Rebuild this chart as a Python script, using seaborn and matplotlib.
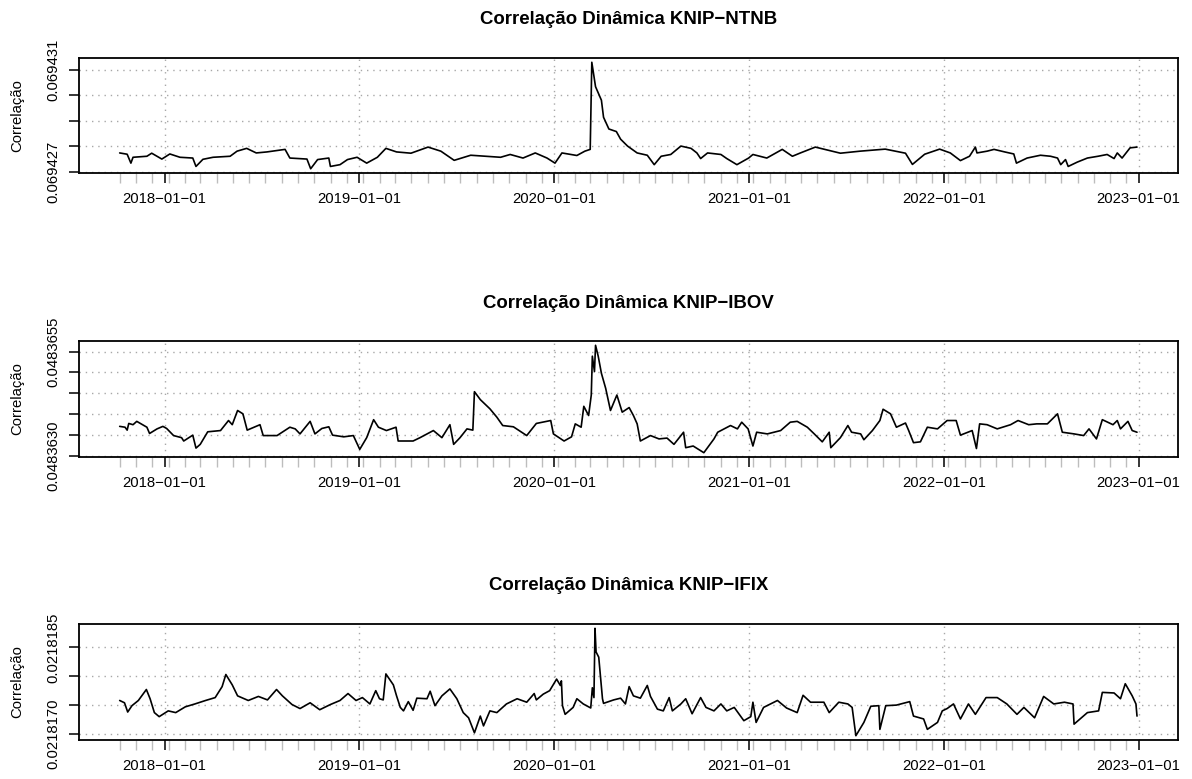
import matplotlib
matplotlib.use("Agg")
import matplotlib.pyplot as plt
import matplotlib.dates as mdates
import seaborn as sns
import pandas as pd

# ---------------- data ----------------
ntnb_dates = [
    "2017-10-09", "2017-10-23", "2017-10-30", "2017-11-03", "2017-11-29", "2017-12-08", "2017-12-27",
    "2018-01-11", "2018-01-30", "2018-02-23", "2018-03-01", "2018-03-14", "2018-04-02", "2018-05-04",
    "2018-05-17", "2018-06-04", "2018-06-22", "2018-07-12", "2018-08-15", "2018-08-24", "2018-09-25",
    "2018-10-02", "2018-10-15", "2018-11-05", "2018-11-08", "2018-11-26", "2018-12-10", "2018-12-28",
    "2019-01-15", "2019-02-04", "2019-02-20", "2019-03-12", "2019-04-08", "2019-05-10", "2019-06-03",
    "2019-06-28", "2019-07-29", "2019-08-26", "2019-09-23", "2019-10-11", "2019-11-04", "2019-11-27",
    "2019-12-19", "2020-01-03", "2020-01-16", "2020-02-13", "2020-02-28", "2020-03-09", "2020-03-12",
    "2020-03-19", "2020-03-30", "2020-04-03", "2020-04-13", "2020-04-27", "2020-05-05", "2020-05-18",
    "2020-06-05", "2020-06-24", "2020-07-07", "2020-07-20", "2020-08-07", "2020-08-26", "2020-09-14",
    "2020-09-25", "2020-10-02", "2020-10-15", "2020-11-09", "2020-11-20", "2020-12-09", "2020-12-31",
    "2021-01-08", "2021-02-03", "2021-03-04", "2021-03-23", "2021-04-07", "2021-05-05", "2021-06-21",
    "2021-07-28", "2021-09-13", "2021-10-21", "2021-11-03", "2021-11-26", "2021-12-24", "2022-01-13",
    "2022-02-01", "2022-02-18", "2022-03-01", "2022-03-04", "2022-03-23", "2022-04-05", "2022-04-25",
    "2022-05-12", "2022-05-17", "2022-06-06", "2022-07-01", "2022-07-20", "2022-08-02", "2022-08-08",
    "2022-08-17", "2022-08-22", "2022-09-08", "2022-09-27", "2022-10-17", "2022-11-03", "2022-11-16",
    "2022-11-22", "2022-12-01", "2022-12-16", "2022-12-29",
]
ntnb_values = [
    0.06942773, 0.06942768, 0.06942733, 0.06942756, 0.06942760, 0.06942772, 0.06942749,
    0.06942769, 0.06942756, 0.06942753, 0.06942720, 0.06942748, 0.06942756, 0.06942760,
    0.06942780, 0.06942791, 0.06942773, 0.06942777, 0.06942787, 0.06942753, 0.06942749,
    0.06942711, 0.06942747, 0.06942753, 0.06942720, 0.06942727, 0.06942747, 0.06942756,
    0.06942733, 0.06942756, 0.06942791, 0.06942777, 0.06942772, 0.06942796, 0.06942780,
    0.06942744, 0.06942764, 0.06942760, 0.06942756, 0.06942767, 0.06942753, 0.06942773,
    0.06942753, 0.06942733, 0.06942773, 0.06942763, 0.06942780, 0.06942787, 0.06943129,
    0.06943033, 0.06942980, 0.06942913, 0.06942867, 0.06942857, 0.06942827, 0.06942800,
    0.06942773, 0.06942764, 0.06942727, 0.06942760, 0.06942767, 0.06942800, 0.06942791,
    0.06942773, 0.06942751, 0.06942773, 0.06942767, 0.06942751, 0.06942727, 0.06942753,
    0.06942767, 0.06942753, 0.06942787, 0.06942760, 0.06942773, 0.06942796, 0.06942772,
    0.06942780, 0.06942788, 0.06942772, 0.06942728, 0.06942768, 0.06942788, 0.06942773,
    0.06942743, 0.06942760, 0.06942796, 0.06942773, 0.06942780, 0.06942787, 0.06942777,
    0.06942769, 0.06942733, 0.06942753, 0.06942764, 0.06942760, 0.06942753, 0.06942727,
    0.06942747, 0.06942720, 0.06942737, 0.06942753, 0.06942760, 0.06942767, 0.06942751,
    0.06942773, 0.06942753, 0.06942793, 0.06942796,
]

ibov_dates = [
    "2017-10-09", "2017-10-19", "2017-10-23", "2017-10-26", "2017-11-03", "2017-11-10", "2017-11-29",
    "2017-12-04", "2017-12-18", "2017-12-29", "2018-01-05", "2018-01-18", "2018-02-02", "2018-02-06",
    "2018-02-23", "2018-03-01", "2018-03-09", "2018-03-23", "2018-04-16", "2018-05-01", "2018-05-08",
    "2018-05-18", "2018-05-28", "2018-06-05", "2018-06-18", "2018-06-29", "2018-07-05", "2018-07-31",
    "2018-08-24", "2018-09-03", "2018-09-12", "2018-10-01", "2018-10-10", "2018-10-23", "2018-11-05",
    "2018-11-12", "2018-12-03", "2018-12-21", "2019-01-02", "2019-01-15", "2019-01-28", "2019-02-06",
    "2019-02-21", "2019-03-11", "2019-03-15", "2019-03-25", "2019-04-12", "2019-04-25", "2019-05-20",
    "2019-06-05", "2019-06-20", "2019-06-27", "2019-07-09", "2019-07-22", "2019-08-02", "2019-08-05",
    "2019-08-16", "2019-09-03", "2019-09-16", "2019-09-27", "2019-10-17", "2019-11-11", "2019-11-29",
    "2019-12-26", "2019-12-31", "2020-01-20", "2020-02-03", "2020-02-10", "2020-02-21", "2020-02-26",
    "2020-03-06", "2020-03-11", "2020-03-13", "2020-03-17", "2020-03-19", "2020-03-24", "2020-03-30",
    "2020-04-07", "2020-04-16", "2020-04-28", "2020-05-08", "2020-05-21", "2020-05-29", "2020-06-05",
    "2020-06-11", "2020-06-30", "2020-07-16", "2020-07-31", "2020-08-13", "2020-08-31", "2020-09-04",
    "2020-09-18", "2020-10-08", "2020-10-27", "2020-11-03", "2020-11-27", "2020-12-10", "2020-12-18",
    "2020-12-30", "2021-01-08", "2021-01-15", "2021-02-04", "2021-03-01", "2021-03-19", "2021-04-01",
    "2021-04-20", "2021-05-03", "2021-05-18", "2021-05-31", "2021-06-03", "2021-06-21", "2021-07-05",
    "2021-07-12", "2021-07-29", "2021-08-04", "2021-08-20", "2021-09-03", "2021-09-09", "2021-09-23",
    "2021-10-04", "2021-10-21", "2021-10-27", "2021-11-05", "2021-11-18", "2021-12-01", "2021-12-20",
    "2022-01-07", "2022-01-24", "2022-02-01", "2022-02-23", "2022-03-03", "2022-03-09", "2022-03-23",
    "2022-04-11", "2022-05-06", "2022-05-20", "2022-06-09", "2022-06-24", "2022-07-14", "2022-08-02",
    "2022-08-11", "2022-09-02", "2022-09-20", "2022-09-30", "2022-10-14", "2022-10-25", "2022-11-14",
    "2022-11-22", "2022-11-28", "2022-12-12", "2022-12-20", "2022-12-29",
]
ibov_values = [
    0.04836371, 0.04836369, 0.04836362, 0.04836378, 0.04836375, 0.04836383, 0.04836369,
    0.04836354, 0.04836365, 0.04836371, 0.04836366, 0.04836349, 0.04836344, 0.04836336,
    0.04836350, 0.04836319, 0.04836328, 0.04836358, 0.04836361, 0.04836385, 0.04836375,
    0.04836409, 0.04836401, 0.04836362, 0.04836369, 0.04836375, 0.04836349, 0.04836349,
    0.04836369, 0.04836365, 0.04836353, 0.04836383, 0.04836353, 0.04836366, 0.04836370,
    0.04836350, 0.04836346, 0.04836349, 0.04836316, 0.04836344, 0.04836387, 0.04836369,
    0.04836361, 0.04836369, 0.04836336, 0.04836336, 0.04836336, 0.04836344, 0.04836361,
    0.04836344, 0.04836375, 0.04836328, 0.04836344, 0.04836365, 0.04836362, 0.04836454,
    0.04836435, 0.04836413, 0.04836393, 0.04836373, 0.04836370, 0.04836349, 0.04836378,
    0.04836385, 0.04836353, 0.04836336, 0.04836346, 0.04836377, 0.04836369, 0.04836419,
    0.04836397, 0.04836446, 0.04836539, 0.04836502, 0.04836565, 0.04836539, 0.04836498,
    0.04836462, 0.04836409, 0.04836446, 0.04836405, 0.04836416, 0.04836397, 0.04836377,
    0.04836336, 0.04836349, 0.04836341, 0.04836343, 0.04836328, 0.04836357, 0.04836320,
    0.04836324, 0.04836308, 0.04836341, 0.04836357, 0.04836373, 0.04836365, 0.04836381,
    0.04836365, 0.04836324, 0.04836357, 0.04836353, 0.04836361, 0.04836381, 0.04836383,
    0.04836369, 0.04836353, 0.04836334, 0.04836357, 0.04836320, 0.04836344, 0.04836373,
    0.04836357, 0.04836353, 0.04836339, 0.04836361, 0.04836385, 0.04836412, 0.04836401,
    0.04836369, 0.04836379, 0.04836361, 0.04836332, 0.04836334, 0.04836369, 0.04836365,
    0.04836385, 0.04836385, 0.04836350, 0.04836361, 0.04836318, 0.04836377, 0.04836375,
    0.04836365, 0.04836375, 0.04836385, 0.04836375, 0.04836377, 0.04836377, 0.04836401,
    0.04836357, 0.04836353, 0.04836349, 0.04836365, 0.04836341, 0.04836387, 0.04836375,
    0.04836385, 0.04836365, 0.04836383, 0.04836361, 0.04836357,
]

ifix_dates = [
    "2017-10-09", "2017-10-18", "2017-10-24", "2017-11-01", "2017-11-13", "2017-11-28", "2017-12-05",
    "2017-12-13", "2017-12-22", "2018-01-08", "2018-01-22", "2018-02-09", "2018-02-27", "2018-03-19",
    "2018-04-06", "2018-04-19", "2018-04-26", "2018-05-08", "2018-05-18", "2018-06-07", "2018-06-26",
    "2018-07-13", "2018-07-30", "2018-08-10", "2018-08-28", "2018-09-12", "2018-10-01", "2018-10-19",
    "2018-11-08", "2018-11-26", "2018-12-11", "2018-12-26", "2019-01-07", "2019-01-21", "2019-02-01",
    "2019-02-08", "2019-02-15", "2019-02-20", "2019-03-06", "2019-03-12", "2019-03-19", "2019-03-25",
    "2019-04-03", "2019-04-12", "2019-04-19", "2019-05-08", "2019-05-14", "2019-05-23", "2019-06-05",
    "2019-06-20", "2019-07-03", "2019-07-15", "2019-07-25", "2019-08-05", "2019-08-16", "2019-08-22",
    "2019-09-03", "2019-09-16", "2019-10-04", "2019-10-24", "2019-11-11", "2019-11-25", "2019-11-29",
    "2019-12-12", "2019-12-24", "2020-01-06", "2020-01-13", "2020-01-15", "2020-01-17", "2020-01-22",
    "2020-02-06", "2020-02-13", "2020-02-25", "2020-03-10", "2020-03-13", "2020-03-16", "2020-03-18",
    "2020-03-20", "2020-03-25", "2020-04-01", "2020-04-03", "2020-04-22", "2020-05-05", "2020-05-14",
    "2020-05-21", "2020-05-29", "2020-06-11", "2020-06-24", "2020-06-30", "2020-07-13", "2020-07-24",
    "2020-08-04", "2020-08-10", "2020-08-26", "2020-09-04", "2020-09-16", "2020-10-02", "2020-10-12",
    "2020-10-27", "2020-11-09", "2020-11-20", "2020-12-04", "2020-12-22", "2021-01-04", "2021-01-08",
    "2021-01-14", "2021-01-28", "2021-02-23", "2021-03-12", "2021-04-01", "2021-04-12", "2021-04-26",
    "2021-05-21", "2021-05-31", "2021-06-18", "2021-07-05", "2021-07-13", "2021-07-20", "2021-08-04",
    "2021-08-17", "2021-09-01", "2021-09-03", "2021-09-14", "2021-10-04", "2021-10-25", "2021-10-29",
    "2021-11-05", "2021-11-24", "2021-12-01", "2021-12-20", "2021-12-29", "2022-01-07", "2022-01-19",
    "2022-02-01", "2022-02-16", "2022-03-01", "2022-03-21", "2022-04-11", "2022-04-29", "2022-05-18",
    "2022-05-31", "2022-06-20", "2022-07-07", "2022-07-26", "2022-08-15", "2022-08-31", "2022-09-02",
    "2022-09-27", "2022-10-18", "2022-10-25", "2022-11-16", "2022-11-28", "2022-12-07", "2022-12-20",
    "2022-12-27", "2022-12-29",
]
ifix_values = [
    0.02181758, 0.02181754, 0.02181738, 0.02181749, 0.02181758, 0.02181777, 0.02181761,
    0.02181737, 0.02181730, 0.02181740, 0.02181737, 0.02181747, 0.02181752, 0.02181758,
    0.02181763, 0.02181782, 0.02181803, 0.02181785, 0.02181766, 0.02181758, 0.02181765,
    0.02181759, 0.02181777, 0.02181766, 0.02181751, 0.02181744, 0.02181754, 0.02181742,
    0.02181751, 0.02181758, 0.02181770, 0.02181758, 0.02181763, 0.02181752, 0.02181775,
    0.02181761, 0.02181759, 0.02181804, 0.02181785, 0.02181766, 0.02181746, 0.02181740,
    0.02181756, 0.02181741, 0.02181762, 0.02181761, 0.02181774, 0.02181749, 0.02181766,
    0.02181778, 0.02181761, 0.02181737, 0.02181728, 0.02181702, 0.02181731, 0.02181714,
    0.02181740, 0.02181737, 0.02181752, 0.02181761, 0.02181755, 0.02181770, 0.02181759,
    0.02181769, 0.02181775, 0.02181795, 0.02181784, 0.02181792, 0.02181749, 0.02181734,
    0.02181746, 0.02181761, 0.02181752, 0.02181745, 0.02181780, 0.02181763, 0.02181883,
    0.02181842, 0.02181833, 0.02181761, 0.02181753, 0.02181759, 0.02181762, 0.02181752,
    0.02181782, 0.02181766, 0.02181762, 0.02181784, 0.02181765, 0.02181743, 0.02181740,
    0.02181763, 0.02181740, 0.02181752, 0.02181761, 0.02181735, 0.02181763, 0.02181746,
    0.02181740, 0.02181752, 0.02181740, 0.02181746, 0.02181723, 0.02181730, 0.02181755,
    0.02181720, 0.02181746, 0.02181758, 0.02181745, 0.02181737, 0.02181767, 0.02181755,
    0.02181755, 0.02181737, 0.02181755, 0.02181752, 0.02181746, 0.02181697, 0.02181720,
    0.02181748, 0.02181749, 0.02181708, 0.02181749, 0.02181750, 0.02181755, 0.02181756,
    0.02181731, 0.02181726, 0.02181708, 0.02181720, 0.02181740, 0.02181744, 0.02181752,
    0.02181726, 0.02181752, 0.02181734, 0.02181763, 0.02181763, 0.02181752, 0.02181734,
    0.02181746, 0.02181728, 0.02181765, 0.02181752, 0.02181755, 0.02181752, 0.02181717,
    0.02181737, 0.02181740, 0.02181772, 0.02181771, 0.02181761, 0.02181787, 0.02181766,
    0.02181752, 0.02181731,
]

titles = ["Correlação Dinâmica KNIP\u2212NTNB",
          "Correlação Dinâmica KNIP\u2212IBOV",
          "Correlação Dinâmica KNIP\u2212IFIX"]
y_label = "Correlação"

ntnb_yticks = [0.069427, 0.069428, 0.069429, 0.069430, 0.069431]
ntnb_ytick_labels = ["0.069427", "", "", "", "0.069431"]
ibov_yticks = [0.0483630, 0.0483635, 0.0483640, 0.0483645, 0.0483650, 0.0483655]
ibov_ytick_labels = ["0.0483630", "", "", "", "", "0.0483655"]
ifix_yticks = [0.0218170, 0.0218175, 0.0218180, 0.0218185]
ifix_ytick_labels = ["0.0218170", "", "", "0.0218185"]

x_major_dates = ["2018-01-01", "2019-01-01", "2020-01-01", "2021-01-01", "2022-01-01", "2023-01-01"]
x_major_labels = ["2018\u221201\u221201", "2019\u221201\u221201", "2020\u221201\u221201",
                  "2021\u221201\u221201", "2022\u221201\u221201", "2023\u221201\u221201"]

# ---------------- style ----------------
sns.set_style("white")
plt.rcParams["font.family"] = ["Liberation Sans", "DejaVu Sans"]
plt.rcParams["axes.unicode_minus"] = False
plt.rcParams["text.color"] = "black"
plt.rcParams["axes.labelcolor"] = "black"
plt.rcParams["xtick.color"] = "black"
plt.rcParams["ytick.color"] = "black"
plt.rcParams["xtick.labelcolor"] = "black"
plt.rcParams["ytick.labelcolor"] = "black"

W, H = 1192, 779
fig = plt.figure(figsize=(W / 100, H / 100), dpi=100)

panels = [
    (ntnb_dates, ntnb_values, ntnb_yticks, ntnb_ytick_labels, 58, 173),
    (ibov_dates, ibov_values, ibov_yticks, ibov_ytick_labels, 341, 457),
    (ifix_dates, ifix_values, ifix_yticks, ifix_ytick_labels, 624, 740),
]
left_px, right_px = 79, 1177.7

grid_kw = dict(color="#a8a8a8", linestyle=(0, (1, 3.5)), linewidth=1.0)

for i, (dates, vals, yt, ytl, top_px, bot_px) in enumerate(panels):
    ax = fig.add_axes([left_px / W, 1 - bot_px / H, (right_px - left_px) / W, (bot_px - top_px) / H])
    df = pd.DataFrame({"date": pd.to_datetime(dates), "value": vals})
    sns.lineplot(data=df, x="date", y="value", ax=ax, color="black", linewidth=1.2,
                 estimator=None, sort=False)

    # R-like 4% axis extension
    dmin, dmax = df["date"].min(), df["date"].max()
    span = dmax - dmin
    ax.set_xlim(mdates.date2num(dmin - span * 0.04), mdates.date2num(dmax + span * 0.04))
    vmin, vmax = min(vals), max(vals)
    vr = vmax - vmin
    ax.set_ylim(vmin - 0.04 * vr, vmax + 0.04 * vr)

    # y ticks
    ax.set_yticks(yt)
    ax.set_yticklabels(ytl)
    ax.tick_params(axis="y", which="major", direction="out", length=7.2, width=1.1,
                   color="black", labelcolor="black", labelsize=10.7, pad=6.3, left=True,
                   labelrotation=90)
    for lab in ax.get_yticklabels():
        lab.set_verticalalignment("center")

    # x ticks: major (years) + minor (monthly, grey)
    major = mdates.date2num(pd.to_datetime(x_major_dates))
    ax.set_xticks(major)
    ax.set_xticklabels(x_major_labels)
    minor = mdates.date2num(pd.date_range(dmin, dmax, freq=pd.DateOffset(months=1)))
    ax.set_xticks(minor, minor=True)
    ax.tick_params(axis="x", which="major", direction="out", length=7.5, width=1.1,
                   color="black", labelcolor="black", labelsize=10.7, pad=6.0, bottom=True)
    ax.tick_params(axis="x", which="minor", direction="out", length=7.5, width=1.0,
                   color="#bdbdbd", bottom=True)

    # grid
    ax.grid(False)
    for y in yt:
        ax.axhline(y, zorder=0, **grid_kw)
    for x in major:
        ax.axvline(x, zorder=0, **grid_kw)

    for sp in ax.spines.values():
        sp.set_visible(True)
        sp.set_color("black")
        sp.set_linewidth(1.3)

    ax.set_xlabel("")
    ax.set_ylabel("")
    ax.text(0.5, 1 + 38 / (bot_px - top_px), titles[i], transform=ax.transAxes,
            ha="center", va="center", fontsize=13.4, fontweight="bold", color="black")
    fig.text(17 / W, 1 - ((top_px + bot_px) / 2) / H, y_label, rotation=90,
             ha="center", va="center", fontsize=10.7, color="black")

fig.savefig("out.png", dpi=100)
